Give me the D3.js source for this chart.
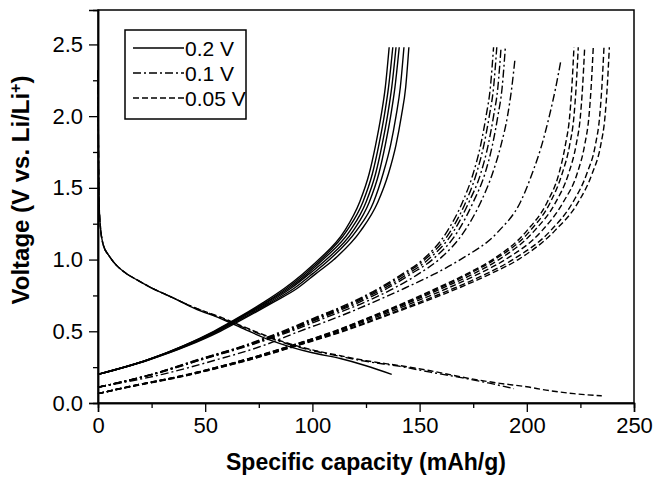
<!DOCTYPE html>
<html>
<head>
<meta charset="utf-8">
<script src="https://cdn.jsdelivr.net/npm/d3@7"></script>
<style>
  body { margin: 0; background: #fff; }
  text { font-family: Arial, "Liberation Sans", sans-serif; }
</style>
</head>
<body>
<svg id="chart" width="654" height="478"></svg>
<script>
// ---- data ----
const xTicks = [0, 50, 100, 150, 200, 250];
const yTicks = [0.0, 0.5, 1.0, 1.5, 2.0, 2.5];
const xMinor = [25, 75, 125, 175, 225];
const yMinor = [0.25, 0.75, 1.25, 1.75, 2.25];
const legendLabels = ["0.2 V", "0.1 V", "0.05 V"];

// discharge curves [capacity, voltage]
const dischargeSolid = [[0,2.32],[0.2,1.8],[0.5,1.4],[1,1.25],[2.5,1.1],[5,1.03],[8,0.97],[13,0.905],[18,0.86],[24,0.81],[34,0.74],[45,0.66],[57,0.59],[69,0.51],[80,0.44],[90,0.39],[100,0.35],[113,0.31],[125,0.26],[137,0.2]];
const dischargeDashDot = [[0,2.32],[0.2,1.8],[0.5,1.4],[1,1.25],[2.5,1.1],[5,1.03],[8,0.97],[13,0.905],[18,0.86],[24,0.81],[34,0.74],[45,0.665],[57,0.595],[69,0.52],[80,0.455],[90,0.405],[100,0.365],[113,0.325],[125,0.29],[141,0.255],[155,0.215],[170,0.175],[182,0.14],[194,0.1]];
const dischargeDashed = [[0,2.32],[0.2,1.8],[0.5,1.4],[1,1.25],[2.5,1.1],[5,1.03],[8,0.97],[13,0.905],[18,0.86],[24,0.81],[34,0.74],[45,0.665],[57,0.6],[69,0.525],[80,0.46],[90,0.41],[100,0.37],[113,0.33],[125,0.295],[141,0.26],[155,0.225],[170,0.18],[187.5,0.137],[200,0.113],[209,0.09],[222,0.065],[235,0.05]];

// charge curves, 0.2 V cut-off (solid)
const solidV = [0.2,0.3,0.4,0.5,0.6,0.7,0.8,0.9,1.0,1.2,1.4,1.6,1.8,2.0,2.2,2.48];
const solidCap = [
  [0,23,40,54,66,77,87,95.5,103,115,122,126.5,129.5,132,134,135.8],
  [0,23,40,54.5,66.5,78,88,96.5,104,116,123.5,128,131,133.5,135.5,137.5],
  [0,23,40.5,55,67,78.5,89,97.5,105,117.5,125,129.5,132.5,135,137,139],
  [0,23,41,55.5,67.5,79.5,90,98.5,106.5,119,126.5,131,134,136.5,138.5,140.5],
  [0,23.5,41.5,56,68.5,80.5,91.5,100,108,120.5,128.5,133,136.5,139,141,142.7],
  [0,23.5,42,57,69.5,81.5,93,101.5,110,122.5,130.5,135.5,139,141.5,143.5,145]
];

// charge curves, 0.1 V cut-off (dash-dot)
const dashDotV = [0.11,0.2,0.3,0.4,0.5,0.6,0.7,0.8,0.9,1.0,1.2,1.4,1.6,1.8,2.0,2.2,2.48];
const dashDotCap = [
  [0,25,46,68,86,102,118,131,142,151.5,163,170,175,178.5,181,183,184.5],
  [0,25,46.5,68.5,87,103,119,132,143,152.5,164.5,171.5,176.5,180,182.5,184.5,186],
  [0,25.5,47,69,88,104,120,133.5,144.5,154,166,173,178.5,182,184.5,186.5,188],
  [0,25.5,47.5,69.5,88.5,105,121.5,135,146,156,168,175,180.5,184,186.5,188.5,190]
];
const dashDotLateV = [0.11,0.2,0.3,0.4,0.5,0.6,0.7,0.8,0.9,1.0,1.2,1.4,1.6,1.8,2.0,2.2,2.4];
const dashDotLateCap = [0,26,48,70.5,90,107,124,138,149.5,159,171,178.5,184,188,191,193,194.5];
const dashDotLongV = [0.11,0.2,0.3,0.4,0.5,0.6,0.7,0.8,0.9,1.0,1.2,1.4,1.6,1.8,2.0,2.2,2.38];
const dashDotLongCap = [0,30,55,77,94,112,128,143,157,169,187,197,202.5,207,210.5,213.5,215.8];

// charge curves, 0.05 V cut-off (dashed)
const dashedV = [0.065,0.1,0.2,0.3,0.4,0.5,0.6,0.7,0.8,0.9,1.0,1.2,1.4,1.6,1.8,2.0,2.2,2.48];
const dashedCap = [
  [0,10,42,68,90,110,127,143,158,172,184,200,209.5,215,218,220,221,222],
  [0,10,42,68,90,110.5,127.5,144,159,173,185,201.5,211,216.5,220,222,223,224],
  [0,10,42.5,68.5,91,111,128.5,145,160.5,175,187,203.5,213.5,219.5,223,225,226,227],
  [0,10.5,43,69,91.5,112,130,147,163,177.5,190,207,217,223.5,227,229,230,231],
  [0,10.5,43.5,70,92.5,113.5,132,149.5,166,181,193.5,211,221.5,228,232,234,235,236],
  [0,11,44,70.5,93,114.5,133,151,168,183,196,213,224,230.5,234.5,236.5,237.5,238.5]
];

// ---- chart ----
const dashes = { solid: null, dashdot: "8,3,2,3", dashed: "6,3" };

const margin = { top: 10, right: 20, bottom: 75, left: 98 };
const width = 654 - margin.left - margin.right;
const height = 478 - margin.top - margin.bottom;

const svg = d3.select("#chart");
svg.append("rect").attr("width", 654).attr("height", 478).attr("fill", "#fff");

const g = svg.append("g")
  .attr("transform", "translate(" + margin.left + "," + margin.top + ")");

const x = d3.scaleLinear().domain([0, 250]).range([0, width]);
const y = d3.scaleLinear().domain([0, 2.74]).range([height, 0]);

const line = d3.line()
  .x(d => x(d[0]))
  .y(d => y(d[1]))
  .curve(d3.curveMonotoneX);

const zip = (caps, volts) => caps.map((c, i) => [c, volts[i]]);

const curves = [];
curves.push({ pts: dischargeSolid, style: "solid" });
curves.push({ pts: dischargeDashDot, style: "dashdot" });
curves.push({ pts: dischargeDashed, style: "dashed" });
solidCap.forEach(c => curves.push({ pts: zip(c, solidV), style: "solid" }));
dashDotCap.forEach(c => curves.push({ pts: zip(c, dashDotV), style: "dashdot" }));
curves.push({ pts: zip(dashDotLateCap, dashDotLateV), style: "dashdot" });
curves.push({ pts: zip(dashDotLongCap, dashDotLongV), style: "dashdot" });
dashedCap.forEach(c => curves.push({ pts: zip(c, dashedV), style: "dashed" }));

g.selectAll(".curve")
  .data(curves)
  .enter().append("path")
  .attr("class", "curve")
  .attr("d", d => line(d.pts))
  .attr("fill", "none")
  .attr("stroke", "#000")
  .attr("stroke-width", 1.4)
  .attr("stroke-dasharray", d => dashes[d.style]);

// frame
g.append("rect")
  .attr("width", width).attr("height", height)
  .attr("fill", "none").attr("stroke", "#000").attr("stroke-width", 1.5);

// axes
g.append("g")
  .attr("transform", "translate(0," + height + ")")
  .call(d3.axisBottom(x).tickValues(xTicks).tickSize(9).tickPadding(5).tickFormat(d3.format("d")));
g.append("g")
  .attr("transform", "translate(0," + height + ")")
  .call(d3.axisBottom(x).tickValues(xMinor).tickSize(5).tickFormat(""));

g.append("g")
  .call(d3.axisLeft(y).tickValues(yTicks).tickSize(9).tickPadding(6).tickFormat(d3.format(".1f")));
g.append("g")
  .call(d3.axisLeft(y).tickValues(yMinor).tickSize(5).tickFormat(""));

g.selectAll(".domain").attr("stroke-width", 1.5);
g.selectAll(".tick line").attr("stroke-width", 1.3);
g.selectAll(".tick text")
  .attr("font-size", 22)
  .attr("font-family", "Arial, 'Liberation Sans', sans-serif")
  .attr("fill", "#000");

// axis titles
svg.append("text")
  .attr("x", margin.left + width / 2)
  .attr("y", 470)
  .attr("text-anchor", "middle")
  .attr("font-size", 23)
  .attr("font-weight", "bold")
  .text("Specific capacity (mAh/g)");

const yTitle = svg.append("text")
  .attr("transform", "translate(29,190) rotate(-90)")
  .attr("text-anchor", "middle")
  .attr("font-size", 24)
  .attr("font-weight", "bold");
yTitle.append("tspan").text("Voltage (V vs. Li/Li");
yTitle.append("tspan").attr("font-size", 16).attr("dy", -8).text("+");
yTitle.append("tspan").attr("dy", 8).text(")");

// legend
const legend = svg.append("g").attr("transform", "translate(125,30)");
legend.append("rect")
  .attr("width", 121).attr("height", 89)
  .attr("fill", "#fff").attr("stroke", "#000").attr("stroke-width", 1.5);

const styles = ["solid", "dashdot", "dashed"];
const rows = legend.selectAll(".row")
  .data(legendLabels)
  .enter().append("g")
  .attr("transform", (d, i) => "translate(0," + (18 + i * 25) + ")");
rows.append("line")
  .attr("x1", 8).attr("x2", 59)
  .attr("stroke", "#000").attr("stroke-width", 1.5)
  .attr("stroke-dasharray", (d, i) => dashes[styles[i]]);
rows.append("text")
  .attr("x", 60).attr("y", 8)
  .attr("font-size", 21)
  .text(d => d);
</script>
</body>
</html>
